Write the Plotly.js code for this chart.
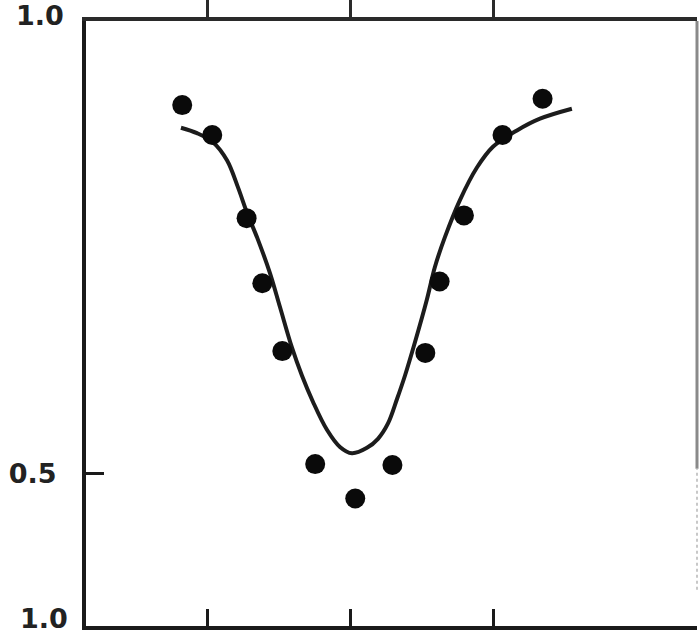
<!DOCTYPE html>
<html>
<head>
<meta charset="utf-8">
<script src="https://cdn.plot.ly/plotly-3.0.1.min.js"></script>
<style>
  html, body { margin: 0; padding: 0; background: #ffffff; }
  #chart { width: 700px; height: 634px; }
</style>
</head>
<body>
<div id="chart"></div>
<script>
// Measured points
const pointX = [-1.18, -0.97, -0.73, -0.62, -0.48, -0.25, 0.03, 0.29, 0.52, 0.62, 0.79, 1.06, 1.34];
const pointY = [0.907, 0.874, 0.782, 0.710, 0.635, 0.510, 0.472, 0.509, 0.633, 0.712, 0.785, 0.874, 0.914];

// Fitted curve
const curveX = [-1.189, -1.077, -0.965, -0.867, -0.790, -0.727, -0.650, -0.566, -0.497, -0.413,
                -0.343, -0.266, -0.168, -0.077, 0.007, 0.112, 0.189, 0.259, 0.322, 0.378,
                0.448, 0.531, 0.587, 0.657, 0.762, 0.881, 0.993, 1.161, 1.322, 1.545];
const curveY = [0.882, 0.876, 0.866, 0.846, 0.816, 0.788, 0.758, 0.721, 0.684, 0.639,
                0.608, 0.579, 0.548, 0.529, 0.522, 0.528, 0.538, 0.555, 0.582, 0.608,
                0.645, 0.692, 0.728, 0.761, 0.802, 0.838, 0.861, 0.879, 0.892, 0.903];

// Axis ticks
const xTicks = [-1, 0, 1];
const yTicks = [0.5];
const yTickText = ['0.5'];

const xRange = [-1.853, 2.42];
const yRange = [0.331, 1.0];

const inkFont = { family: 'DejaVu Sans', size: 27, color: '#222222', weight: 'bold' };

const traces = [
  {
    x: curveX, y: curveY, type: 'scatter', mode: 'lines',
    line: { color: '#1c1c1c', width: 4, shape: 'spline', smoothing: 1 },
    hoverinfo: 'skip'
  },
  {
    x: pointX, y: pointY, type: 'scatter', mode: 'markers',
    marker: { color: '#0a0a0a', size: 20 }
  },
  {
    x: [xRange[0]], y: [yRange[0]], xaxis: 'x2', type: 'scatter', mode: 'markers',
    marker: { opacity: 0 }, hoverinfo: 'skip'
  }
];

const layout = {
  width: 700, height: 634,
  margin: { l: 86, r: 3, t: 21, b: 8 },
  paper_bgcolor: '#ffffff', plot_bgcolor: '#ffffff',
  showlegend: false,
  xaxis: {
    range: xRange, tickvals: xTicks, showticklabels: false,
    ticks: 'inside', ticklen: 17, tickwidth: 3, tickcolor: '#1a1a1a',
    showline: true, linewidth: 4, linecolor: '#1a1a1a',
    showgrid: false, zeroline: false
  },
  xaxis2: {
    overlaying: 'x', side: 'top', range: xRange, tickvals: xTicks, showticklabels: false,
    ticks: 'outside', ticklen: 19, tickwidth: 3, tickcolor: '#2a2a2a',
    showline: true, linewidth: 4, linecolor: '#2a2a2a',
    showgrid: false, zeroline: false
  },
  yaxis: {
    range: yRange, tickvals: yTicks, ticktext: yTickText,
    ticks: 'inside', ticklen: 18, tickwidth: 3, tickcolor: '#1a1a1a',
    showline: true, linewidth: 4, linecolor: '#1a1a1a',
    showgrid: false, zeroline: false,
    tickfont: inkFont, ticklabelstandoff: 20
  },
  shapes: [
    { type: 'line', xref: 'paper', yref: 'paper', x0: 1, x1: 1, y0: 0.26, y1: 1,
      line: { color: '#8a8a8a', width: 3 } },
    { type: 'line', xref: 'paper', yref: 'paper', x0: 1, x1: 1, y0: 0.06, y1: 0.26,
      line: { color: '#c8c8c8', width: 2, dash: 'dot' } }
  ],
  annotations: [
    { text: '1.0', xref: 'paper', yref: 'paper', x: 0, y: 1, xanchor: 'right', yanchor: 'middle',
      xshift: -20, yshift: 6, showarrow: false, font: inkFont },
    { text: '1.0', xref: 'paper', yref: 'paper', x: 0, y: 0, xanchor: 'right', yanchor: 'middle',
      xshift: -16, yshift: 8, showarrow: false, font: inkFont }
  ]
};

Plotly.newPlot('chart', traces, layout, { displayModeBar: false, staticPlot: true });
</script>
</body>
</html>
